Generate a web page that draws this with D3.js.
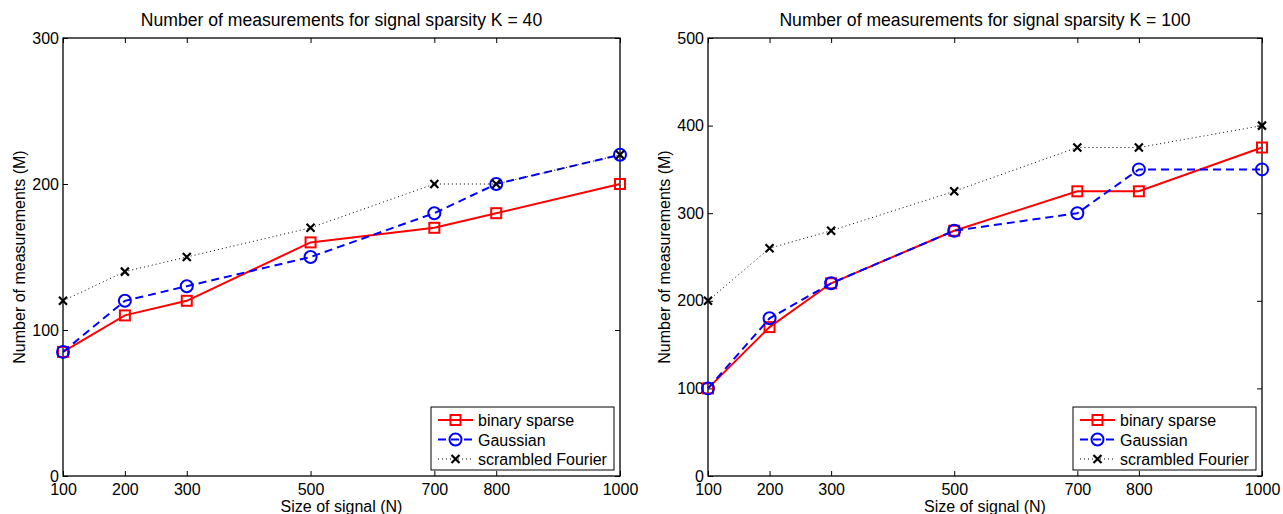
<!DOCTYPE html>
<html><head><meta charset="utf-8">
<script src="https://cdn.jsdelivr.net/npm/d3@7"></script>
<style>body{margin:0;background:#fff;} text{font-family:"Liberation Sans",Arial,sans-serif;}</style>
</head><body>
<svg id="c" width="1283" height="514"></svg>
<script>
const sizes = [100, 200, 300, 500, 700, 800, 1000];
const xTicks = [100, 200, 300, 500, 700, 800, 1000];

const k40Binary   = [85, 110, 120, 160, 170, 180, 200];
const k40Gaussian = [85, 120, 130, 150, 180, 200, 220];
const k40Fourier  = [120, 140, 150, 170, 200, 200, 220];
const k40YTicks   = [0, 100, 200, 300];

const k100Binary   = [100, 170, 220, 280, 325, 325, 375];
const k100Gaussian = [100, 180, 220, 280, 300, 350, 350];
const k100Fourier  = [200, 260, 280, 325, 375, 375, 400];
const k100YTicks   = [0, 100, 200, 300, 400, 500];

const seriesNames = ["binary sparse", "Gaussian", "scrambled Fourier"];
const titles = ["Number of measurements for signal sparsity K = 40",
                "Number of measurements for signal sparsity K = 100"];
const xLabel = "Size of signal (N)";
const yLabel = "Number of measurements (M)";

const styles = [
  {color:"#ff0000", width:2, dash:null, marker:"square"},
  {color:"#0000ff", width:2, dash:"8,5", marker:"circle"},
  {color:"#000000", width:1, dash:"1,3", marker:"x"}
];

const FS = 16, TFS = 17.6;
const svg = d3.select("#c");

function panel(left, right, top, bottom, yMax, yTicks, series, title){
  const x = d3.scaleLinear().domain([100,1000]).range([left,right]);
  const y = d3.scaleLinear().domain([0,yMax]).range([bottom,top]);
  const g = svg.append("g");

  g.append("text").attr("x",(left+right)/2).attr("y",26)
    .attr("text-anchor","middle").attr("font-size",TFS).text(title);

  const tl = 5;
  const styleText = a=>{a.select(".domain").remove(); a.selectAll("text").attr("font-size",FS).attr("fill","#000").attr("font-family","Liberation Sans, Arial, sans-serif");};
  g.append("g").attr("transform",`translate(0,${bottom})`)
    .call(d3.axisBottom(x).tickValues(xTicks).tickSize(-tl).tickPadding(8).tickFormat(d3.format("d")))
    .call(styleText);
  g.append("g").attr("transform",`translate(0,${top})`)
    .call(d3.axisTop(x).tickValues(xTicks).tickSize(-tl).tickFormat(""))
    .call(a=>a.select(".domain").remove());
  g.append("g").attr("transform",`translate(${left},0)`)
    .call(d3.axisLeft(y).tickValues(yTicks).tickSize(-tl).tickPadding(4).tickFormat(d3.format("d")))
    .call(styleText);
  g.append("g").attr("transform",`translate(${right},0)`)
    .call(d3.axisRight(y).tickValues(yTicks).tickSize(-tl).tickFormat(""))
    .call(a=>a.select(".domain").remove());
  g.selectAll(".tick line").attr("stroke","#000").attr("stroke-width",1);

  g.append("rect").attr("x",left).attr("y",top).attr("width",right-left).attr("height",bottom-top)
    .attr("fill","none").attr("stroke","#000").attr("stroke-width",1.3);

  g.append("text").attr("x",(left+right)/2).attr("y",512).attr("text-anchor","middle")
    .attr("font-size",FS).text(xLabel);
  g.append("text").attr("transform",`translate(${left-38},${(top+bottom)/2}) rotate(-90)`)
    .attr("text-anchor","middle").attr("font-size",FS).text(yLabel);

  const line = d3.line().x((d,i)=>x(sizes[i])).y(d=>y(d));

  function drawMarker(sel, type, st, cx, cy){
    if(type==="square"){
      sel.append("rect").attr("x",cx-5).attr("y",cy-5).attr("width",10).attr("height",10)
        .attr("fill","none").attr("stroke",st.color).attr("stroke-width",2);
    } else if(type==="circle"){
      sel.append("circle").attr("cx",cx).attr("cy",cy).attr("r",6)
        .attr("fill","none").attr("stroke",st.color).attr("stroke-width",2);
    } else {
      sel.append("path").attr("d",`M${cx-4},${cy-4}L${cx+4},${cy+4}M${cx-4},${cy+4}L${cx+4},${cy-4}`)
        .attr("stroke",st.color).attr("stroke-width",2.2);
    }
  }

  series.forEach((vals,si)=>{
    const st = styles[si];
    g.append("path").datum(vals).attr("d",line).attr("fill","none")
      .attr("stroke",st.color).attr("stroke-width",st.width)
      .attr("stroke-dasharray",st.dash);
    const mg = g.append("g");
    vals.forEach((v,i)=>drawMarker(mg, st.marker, st, x(sizes[i]), y(v)));
  });

  const lw = 183, lh = 63;
  const lx = right - 6 - lw, ly = bottom - 6 - lh;
  const lg = g.append("g");
  lg.append("rect").attr("x",lx).attr("y",ly).attr("width",lw).attr("height",lh)
    .attr("fill","#fff").attr("stroke","#000").attr("stroke-width",1);
  seriesNames.forEach((name,si)=>{
    const st = styles[si];
    const ry = ly + 13 + si*19.5;
    lg.append("line").attr("x1",lx+7).attr("x2",lx+42).attr("y1",ry).attr("y2",ry)
      .attr("stroke",st.color).attr("stroke-width",st.width).attr("stroke-dasharray",st.dash);
    drawMarker(lg, st.marker, st, lx+24.5, ry);
    lg.append("text").attr("x",lx+47).attr("y",ry+6).attr("font-size",FS).text(name);
  });
}

panel(63, 620, 38, 476, 300, k40YTicks, [k40Binary,k40Gaussian,k40Fourier], titles[0]);
panel(708, 1262, 38, 476, 500, k100YTicks, [k100Binary,k100Gaussian,k100Fourier], titles[1]);
</script>
</body></html>
